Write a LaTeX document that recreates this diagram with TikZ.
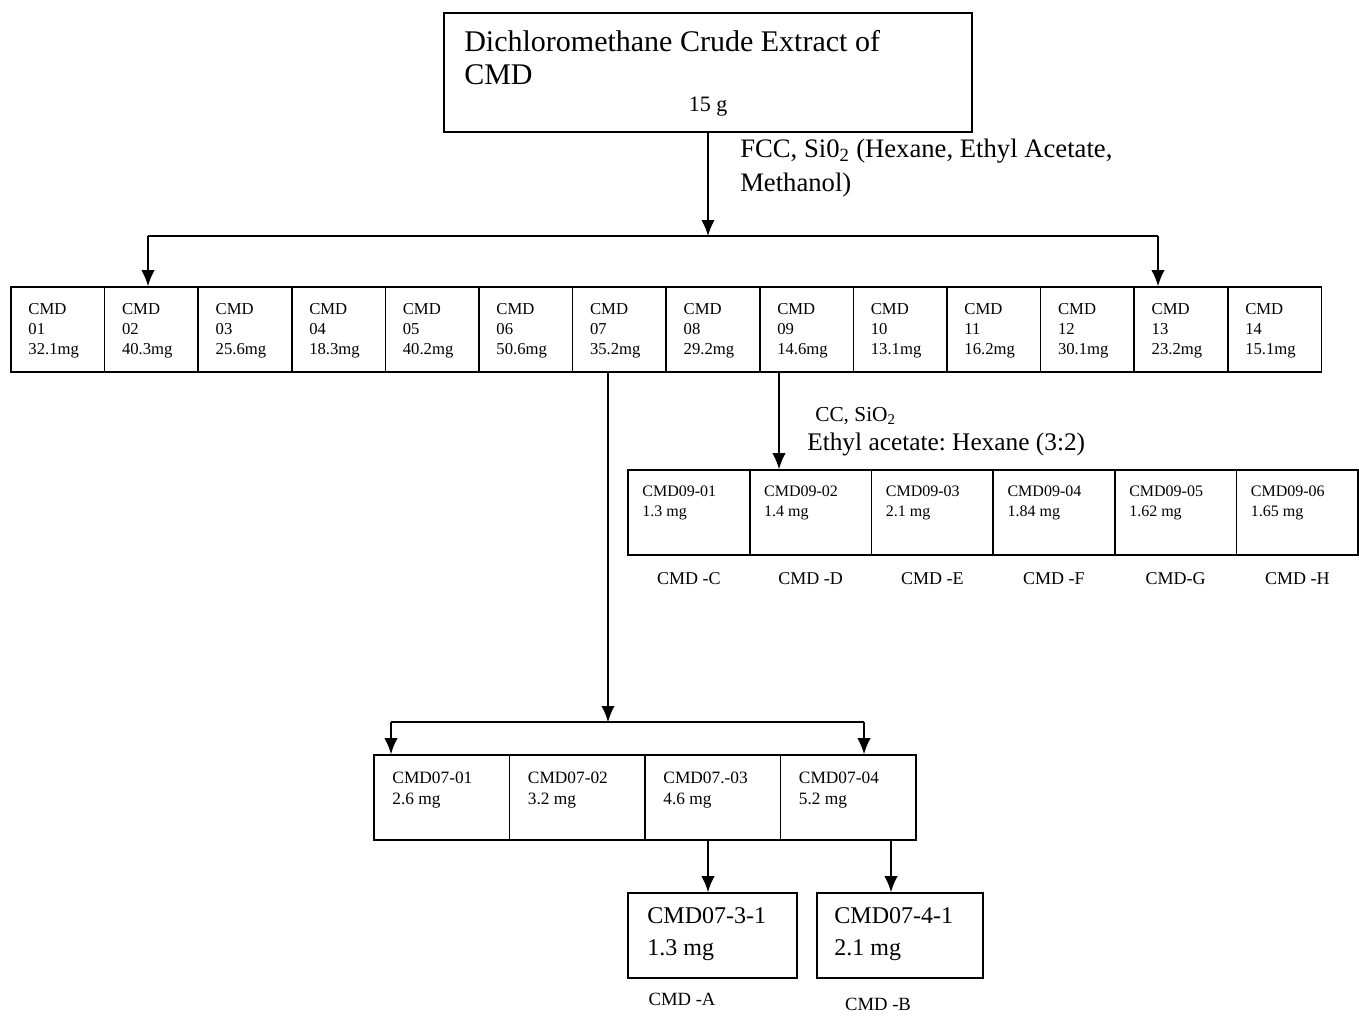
\documentclass[tikz,border=0pt]{standalone}
\usepackage{fontspec}
\setmainfont{Liberation Serif}
\usetikzlibrary{positioning,arrows.meta}
\frenchspacing

\begin{document}
\begin{tikzpicture}[x=0.75pt,y=-0.75pt,
    box/.style={draw,line width=1.2pt,inner sep=0pt},
    txt/.style={inner sep=0pt,anchor=north west,align=left},
    arr/.style={line width=1.2pt,-{Latex[length=12pt,width=10pt]}},
    ln/.style={line width=1.2pt}]
\useasboundingbox (0,0) rectangle (1359,1015);

% crude extract
\node[box,minimum width=396pt,minimum height=89.25pt] (crude) at (708,72.5) {};
\node[txt,font=\fontsize{22.5}{25}\selectfont] (crudetxt) at (464,30) {Dichloromethane Crude Extract of\\CMD};
\node[font=\fontsize{16.5}{19}\selectfont] (grams) at (708,107) {15 g};
\node[txt,font=\fontsize{20}{25}\selectfont] (fcc) at (740,139) {FCC, Si0\textsubscript{2} (Hexane, Ethyl Acetate,\\Methanol)};

% first column
\foreach \fr/\wt [count=\i] in {01/32.1,02/40.3,03/25.6,04/18.3,05/40.2,06/50.6,07/35.2,
                                08/29.2,09/14.6,10/13.1,11/16.2,12/30.1,13/23.2,14/15.1}{
  \node[box,minimum width=70.2pt,minimum height=63.75pt] (f\fr) at ({11+(\i-0.5)*93.6},329.5) {};
  \node[txt,font=\fontsize{12.5}{15}\selectfont] (t\fr) at ([shift={(18,17)}]f\fr.north west) {CMD\\\fr\\{\wt}mg};
}

\coordinate (split1) at (708,236);
\coordinate (l1) at (148,236);
\coordinate (r1) at (1158,236);
\draw[arr] (crude) -- (split1);
\draw[ln] (l1) -- (r1);
\draw[arr] (l1) -- (l1 |- f02.north);
\draw[arr] (r1) -- (r1 |- f13.north);

% fraction 09
\foreach \s/\wt/\tag [count=\i] in {01/1.3/CMD -C,02/1.4/CMD -D,03/2.1/CMD -E,
                                    04/1.84/CMD -F,05/1.62/CMD-G,06/1.65/CMD -H}{
  \node[box,minimum width=91.3pt,minimum height=63.75pt] (g\s) at ({628+(\i-0.5)*121.7},512.5) {};
  \node[txt,font=\fontsize{12}{15.5}\selectfont] (gt\s) at ([shift={(15,16)}]g\s.north west) {CMD09-\s\\\wt{} mg};
  \node[font=\fontsize{13.5}{15}\selectfont] (gn\s) at ([shift={(0,23)}]g\s.south) {\tag};
}

\coordinate (d09) at (779,372);
\draw[arr] (d09) -- (d09 |- g02.north);
\node[txt,font=\fontsize{16}{17}\selectfont] (cc) at (815,407) {CC, SiO\textsubscript{2}};
\node[txt,font=\fontsize{19}{22}\selectfont] (eluent) at (807,433) {Ethyl acetate: Hexane (3:2)};

% fraction 07
\foreach \lab/\wt [count=\i] in {CMD07-01/2.6,CMD07-02/3.2,CMD07.-03/4.6,CMD07-04/5.2}{
  \node[box,minimum width=101.6pt,minimum height=63.75pt] (s\i) at ({374+(\i-0.5)*135.5},797.5) {};
  \node[txt,font=\fontsize{13}{16}\selectfont] (st\i) at ([shift={(19,17)}]s\i.north west) {\lab\\\wt{} mg};
}

\coordinate (d07) at (608,372);
\coordinate (split2) at (608,722);
\coordinate (l2) at (391,722);
\coordinate (r2) at (864,722);
\draw[arr] (d07) -- (split2);
\draw[ln] (l2) -- (r2);
\draw[arr] (l2) -- (l2 |- s1.north);
\draw[arr] (r2) -- (r2 |- s4.north);

% pure compounds
\node[box,minimum width=126.75pt,minimum height=63.75pt] (pa) at (712.5,935.5) {};
\node[box,minimum width=124.5pt,minimum height=63.75pt] (pb) at (900,935.5) {};
\node[txt,font=\fontsize{18}{24}\selectfont] (pat) at ([shift={(20,15)}]pa.north west) {CMD07-3-1\\1.3 mg};
\node[txt,font=\fontsize{18}{24}\selectfont] (pbt) at ([shift={(18,15)}]pb.north west) {CMD07-4-1\\2.1 mg};
\node[font=\fontsize{14}{16}\selectfont] (na) at (682,999) {CMD -A};
\node[font=\fontsize{14}{16}\selectfont] (nb) at (878,1004) {CMD -B};

\coordinate (d3) at (708,840);
\coordinate (d4) at (891,840);
\draw[arr] (d3) -- (d3 |- pa.north);
\draw[arr] (d4) -- (d4 |- pb.north);
\end{tikzpicture}
\end{document}
